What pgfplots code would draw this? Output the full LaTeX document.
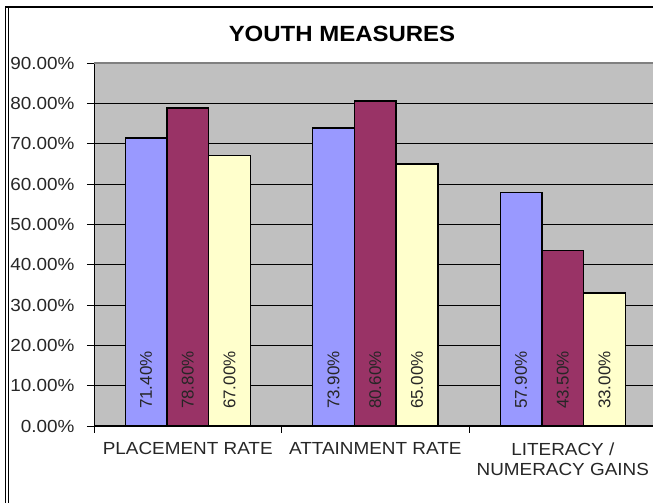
\documentclass[border=0pt]{standalone}
\usepackage{fontspec}
\setmainfont{Liberation Sans}
\newfontfamily\wide[FakeStretch=1.08]{Liberation Sans}
\newfontfamily\widetitle[FakeStretch=1.09]{Liberation Sans}
\usepackage{pgfplots}
\pgfplotsset{compat=1.18}
\definecolor{barblue}{HTML}{9999FF}
\definecolor{barmaroon}{HTML}{993366}
\definecolor{baryellow}{HTML}{FFFFCC}
\definecolor{plotgray}{HTML}{C0C0C0}
\definecolor{bordergray}{HTML}{808080}

\begin{document}
\begin{tikzpicture}[x=1pt,y=1pt]
\useasboundingbox (0,0) rectangle (653,503);
% outer chart frame (cropped on the right and bottom)
\draw[line width=2pt] (5,496) -- (653,496);
\draw[line width=0.9pt] (5,0) -- (5,497) (8,0) -- (8,495);
\node[font=\widetitle\fontsize{22}{26}\selectfont\bfseries] at (342,469) {YOUTH MEASURES};
\begin{axis}[
    at={(94pt,77pt)}, anchor=south west,
    scale only axis, width=559pt, height=363pt,
    xmin=-0.5, xmax=2.481, ymin=0, ymax=90,
    ybar=0pt, bar width=41.7pt,
    axis background/.style={fill=plotgray},
    axis x line*=bottom, axis y line*=left,
    axis line style={black, line width=1pt},
    tick align=outside,
    ytick={0,10,...,90},
    yticklabel={\pgfmathprintnumber[fixed,fixed zerofill,precision=2]{\tick}\%},
    /pgf/number format/assume math mode=true,
    ymajorgrids, major y grid style={black, line width=0.9pt},
    major tick length=7pt, minor tick length=7pt,
    major y tick style={black, line width=0.9pt},
    xtick={0,1,2},
    xticklabels={PLACEMENT RATE, ATTAINMENT RATE, {LITERACY /\\NUMERACY GAINS}},
    major x tick style={draw=none},
    minor xtick={-0.5,0.5,1.5,2.5},
    minor x tick style={black, line width=0.9pt},
    xticklabel style={align=center, font=\wide\fontsize{17.5}{20.5}\selectfont, text=black!85, yshift=-6pt},
    yticklabel style={font=\wide\fontsize{17.5}{20}\selectfont, text=black!85, xshift=-9pt},
    nodes near coords={\pgfmathprintnumber[fixed,fixed zerofill,precision=2]{\pgfplotspointmeta}\%},
    visualization depends on={y \as \rawy},
    every node near coord/.append style={shift={(axis direction cs:0,-\rawy)}, yshift=13pt,
        anchor=west, rotate=90, font=\fontsize{17}{19}\selectfont, text=black!85},
    clip=false,
]
\addplot[fill=barblue, draw=black, line width=1.4pt] coordinates {(0,71.4) (1,73.9) (2,57.9)};
\addplot[fill=barmaroon, draw=black, line width=1.4pt] coordinates {(0,78.8) (1,80.6) (2,43.5)};
\addplot[fill=baryellow, draw=black, line width=1.4pt] coordinates {(0,67.0) (1,65.0) (2,33.0)};
\draw[bordergray, line width=1.6pt] (rel axis cs:0,1) -- (rel axis cs:1,1);
\end{axis}
\end{tikzpicture}
\end{document}
